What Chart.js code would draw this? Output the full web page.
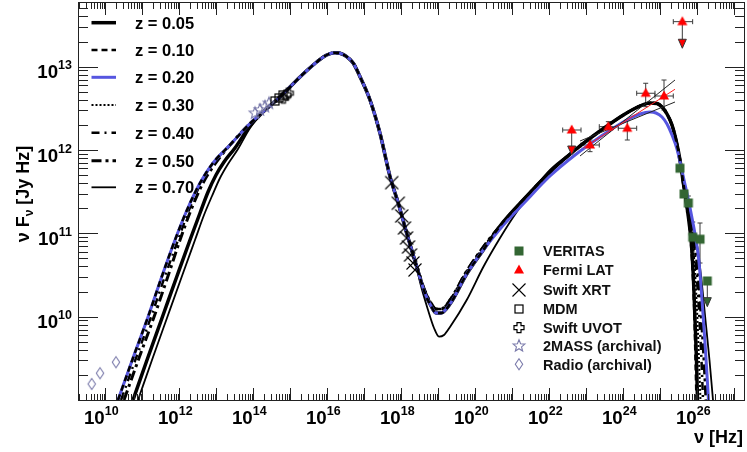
<!DOCTYPE html>
<html>
<head>
<meta charset="utf-8">
<title>SED</title>
<script src="https://cdn.jsdelivr.net/npm/chart.js@4.4.1/dist/chart.umd.min.js"></script>
<style>
html,body{margin:0;padding:0;background:#ffffff;}
canvas{display:block;}
</style>
</head>
<body>
<canvas id="sed" width="747" height="452"></canvas>
<script>
// ---------- axis ranges (log10 of nu [Hz] and of nuFnu [Jy Hz]) ----------
const LOG_NU_MIN = 9.262, LOG_NU_MAX = 27.289;
const LOG_F_MIN = 9.0, LOG_F_MAX = 13.764;
const xTickExponents = [10, 12, 14, 16, 18, 20, 22, 24, 26];
const yTickExponents = [10, 11, 12, 13];
const modelLabels = ['z = 0.05', 'z = 0.10', 'z = 0.20', 'z = 0.30', 'z = 0.40', 'z = 0.50', 'z = 0.70'];
const dataLabels = ['VERITAS', 'Fermi LAT', 'Swift XRT', 'MDM', 'Swift UVOT', '2MASS (archival)', 'Radio (archival)'];

// ---------- model curve pieces: [log10 nu, log10 nuFnu] ----------
const lowGroup = [[10.343,9.000],[10.749,9.504],[11.154,9.996],[11.533,10.488],[11.884,10.920],[12.208,11.280],[12.560,11.604],[12.911,11.844],[13.370,12.060],[13.911,12.318]];
const lowZ005 = [[10.749,9.000],[11.127,9.480],[11.533,9.984],[11.938,10.488],[12.289,10.920],[12.560,11.244],[12.776,11.496],[12.992,11.700],[13.208,11.856],[13.505,12.024],[13.911,12.288]];
const lowZ040 = [[10.425,9.000],[10.830,9.504],[11.235,9.996],[11.613,10.488],[11.965,10.920],[12.262,11.280],[12.587,11.604],[12.911,11.844],[13.370,12.060],[13.911,12.318]];
const lowZ050 = [[10.506,9.000],[10.911,9.504],[11.316,9.996],[11.695,10.488],[12.019,10.920],[12.316,11.280],[12.641,11.604],[12.965,11.832],[13.370,12.060],[13.911,12.318]];
const lowZ070 = [[10.884,9.000],[11.262,9.480],[11.667,9.984],[12.073,10.488],[12.424,10.920],[12.668,11.220],[12.884,11.448],[13.100,11.664],[13.316,11.832],[13.586,12.012],[13.911,12.264]];
const syncBranch = [[14.262,12.456],[14.722,12.636],[15.262,12.876],[15.714,13.056],[15.984,13.140],[16.208,13.168],[16.343,13.161],[16.524,13.120],[16.703,13.041],[16.884,12.880],[17.154,12.600],[17.424,12.201],[17.695,11.680],[17.919,11.360],[18.146,11.001],[18.416,10.600]];
const dipDeep = [[18.641,10.280],[18.803,10.128],[18.938,10.044],[19.073,10.044],[19.316,10.152],[19.768,10.512],[20.216,10.800]];
const dipHigh = [[18.641,10.308],[18.803,10.164],[18.938,10.092],[19.073,10.092],[19.316,10.200],[19.768,10.548],[20.216,10.836]];
const dipZ070 = [[18.505,10.416],[18.722,10.080],[18.884,9.864],[19.019,9.760],[19.154,9.780],[19.316,9.876],[19.768,10.200],[20.216,10.596],[20.668,10.944],[21.119,11.256],[21.568,11.520],[22.019,11.760]];
const riseEarly = [[20.668,11.088],[21.343,11.424],[22.019,11.736]];
const riseLate = [[22.695,12.000],[23.370,12.228],[24.046,12.432],[24.451,12.528],[24.722,12.564],[24.911,12.558],[25.046,12.516],[25.181,12.432],[25.316,12.300],[25.424,12.120],[25.532,11.880],[25.622,11.604],[25.713,11.340]];
const riseBlue = [[20.668,11.052],[21.343,11.376],[22.019,11.688],[22.695,11.940],[23.370,12.156],[24.046,12.348],[24.451,12.432],[24.722,12.456],[24.884,12.444],[25.046,12.396],[25.181,12.312],[25.316,12.180],[25.451,12.012],[25.559,11.808],[25.641,11.640],[25.749,11.424],[25.857,11.184],[25.965,10.920],[26.046,10.656],[26.127,10.200],[26.221,9.600],[26.302,9.000]];
const dropZ005 = [[25.776,11.136],[25.843,10.860],[25.897,10.440],[25.938,9.960],[25.978,9.480],[26.005,9.000]];
const dropZ010 = [[25.776,11.136],[25.830,10.860],[25.884,10.440],[25.924,9.960],[25.951,9.480],[25.978,9.000]];
const dropZ030 = [[25.803,11.136],[25.884,10.860],[25.951,10.440],[26.005,9.960],[26.046,9.480],[26.086,9.000]];
const dropZ040 = [[25.816,11.136],[25.911,10.860],[25.992,10.440],[26.059,9.960],[26.113,9.480],[26.154,9.000]];
const dropZ050 = [[25.830,11.136],[25.938,10.860],[26.032,10.440],[26.113,9.960],[26.181,9.480],[26.235,9.000]];
const dropZ070 = [[25.857,11.136],[25.992,10.860],[26.113,10.440],[26.221,9.960],[26.329,9.480],[26.424,9.000]];

const curveZ005 = [...lowZ005, ...syncBranch, ...dipDeep, ...riseEarly, ...riseLate, ...dropZ005];
const curveZ010 = [...lowGroup, ...syncBranch, ...dipDeep, ...riseEarly, ...riseLate, ...dropZ010];
const curveZ020 = [...lowGroup, ...syncBranch, ...dipDeep, ...riseBlue];
const curveZ030 = [...lowGroup, ...syncBranch, ...dipHigh, ...riseEarly, ...riseLate, ...dropZ030];
const curveZ040 = [...lowZ040, ...syncBranch, ...dipHigh, ...riseEarly, ...riseLate, ...dropZ040];
const curveZ050 = [...lowZ050, ...syncBranch, ...dipHigh, ...riseEarly, ...riseLate, ...dropZ050];
const curveZ070 = [...lowZ070, ...syncBranch, ...dipZ070, ...riseLate, ...dropZ070];

// ---------- measurements (log10 values) ----------
const veritasNu     = [25.532, 25.641, 25.757, 25.876, 26.073, 26.270];
const veritasFlux   = [11.781, 11.472, 11.364, 10.953, 10.929, 10.428];
const veritasFluxLo = [null, null, 11.256, 10.776, 10.644, null];
const veritasFluxHi = [null, null, 11.448, 11.136, 11.124, null];
const veritasArrowTo = [null, null, null, null, null, 10.120];

const fermiNu     = [22.605, 23.100, 23.595, 24.108, 24.605, 25.100, 25.595];
const fermiFlux   = [12.240, 12.060, 12.280, 12.261, 12.681, 12.648, 13.540];
const fermiNuLo   = [22.362, 22.857, 23.351, 23.865, 24.362, 24.856, 25.351];
const fermiNuHi   = [22.857, 23.351, 23.865, 24.362, 24.856, 25.351, 25.874];
const fermiFluxLo = [null, 11.980, 12.220, 12.120, 12.520, 12.480, null];
const fermiFluxHi = [null, 12.120, 12.340, 12.360, 12.801, 12.840, null];
const fermiArrowTo = [11.940, null, null, null, null, null, 13.221];

const fermiFitNu = [22.919, 25.397];
const fermiFitFlux = [12.024, 12.729];
const fermiBandSteepFlux = [11.928, 12.840];
const fermiBandFlatFlux = [12.108, 12.576];
const fermiBandNu = [22.830, 25.397];

const xrtNu   = [17.741, 17.919, 18.011, 18.086, 18.141, 18.195, 18.249, 18.316, 18.370];
const xrtFlux = [11.608, 11.361, 11.208, 11.064, 10.944, 10.836, 10.740, 10.644, 10.560];
const mdmNu   = [14.586, 14.695, 14.803];
const mdmFlux = [12.588, 12.624, 12.660];
const uvotNu   = [14.811, 14.884, 14.946];
const uvotFlux = [12.621, 12.660, 12.681];
const twomassNu   = [14.046, 14.181, 14.316, 14.424];
const twomassFlux = [12.441, 12.480, 12.520, 12.560];
const radioNu   = [9.632, 9.857, 10.289];
const radioFlux = [9.192, 9.321, 9.453];

// ---------- styling ----------
const BLUE = '#5656e0', GREEN = '#336633', RED = '#ff0000', ARCH = '#7b7bab';
const FONT = '"Liberation Sans", Arial, Helvetica, sans-serif';

function toPts(pairs) { return pairs.map(p => ({x: Math.pow(10, p[0]), y: Math.pow(10, p[1])})); }
function toPts2(nu, fl) { return nu.map((v, i) => ({x: Math.pow(10, v), y: Math.pow(10, fl[i])})); }

function drawMarker(ctx, kind, x, y) {
  ctx.save();
  ctx.lineWidth = 1;
  ctx.setLineDash([]);
  if (kind === 'veritas') {
    ctx.fillStyle = GREEN; ctx.fillRect(x - 4.5, y - 4.5, 9, 9);
  } else if (kind === 'fermi') {
    ctx.fillStyle = RED; ctx.beginPath();
    ctx.moveTo(x, y - 5.5); ctx.lineTo(x + 5, y + 3.5); ctx.lineTo(x - 5, y + 3.5); ctx.closePath(); ctx.fill();
  } else if (kind === 'xrt') {
    ctx.strokeStyle = '#000'; ctx.lineWidth = 1.1; ctx.beginPath();
    ctx.moveTo(x - 6.5, y - 6.5); ctx.lineTo(x + 6.5, y + 6.5); ctx.moveTo(x + 6.5, y - 6.5); ctx.lineTo(x - 6.5, y + 6.5); ctx.stroke();
  } else if (kind === 'mdm') {
    ctx.strokeStyle = '#000'; ctx.lineWidth = 1.2; ctx.strokeRect(x - 4, y - 4, 8, 8);
  } else if (kind === 'uvot') {
    const a = 2, b = 5;
    ctx.strokeStyle = '#000'; ctx.lineWidth = 1.2; ctx.beginPath();
    ctx.moveTo(x - a, y - b); ctx.lineTo(x + a, y - b); ctx.lineTo(x + a, y - a); ctx.lineTo(x + b, y - a);
    ctx.lineTo(x + b, y + a); ctx.lineTo(x + a, y + a); ctx.lineTo(x + a, y + b); ctx.lineTo(x - a, y + b);
    ctx.lineTo(x - a, y + a); ctx.lineTo(x - b, y + a); ctx.lineTo(x - b, y - a); ctx.lineTo(x - a, y - a);
    ctx.closePath(); ctx.stroke();
  } else if (kind === 'twomass') {
    ctx.strokeStyle = ARCH; ctx.lineWidth = 1.1; ctx.beginPath();
    for (let k = 0; k < 10; k++) {
      const r = (k % 2 === 0) ? 6.2 : 2.7;
      const ang = -Math.PI / 2 + k * Math.PI / 5;
      const px = x + r * Math.cos(ang), py = y + r * Math.sin(ang);
      if (k === 0) ctx.moveTo(px, py); else ctx.lineTo(px, py);
    }
    ctx.closePath(); ctx.stroke();
  } else if (kind === 'radio') {
    ctx.strokeStyle = ARCH; ctx.lineWidth = 1.1; ctx.beginPath();
    ctx.moveTo(x, y - 5.5); ctx.lineTo(x + 3.7, y); ctx.lineTo(x, y + 5.5); ctx.lineTo(x - 3.7, y); ctx.closePath(); ctx.stroke();
  }
  ctx.restore();
}
function markerCanvas(kind) {
  const c = document.createElement('canvas');
  c.width = 18; c.height = 18;
  drawMarker(c.getContext('2d'), kind, 9, 9);
  return c;
}

const modelStyles = [
  {color: '#000', width: 3.5, dash: []},
  {color: '#000', width: 2.5, dash: [6, 4]},
  {color: BLUE, width: 3, dash: []},
  {color: '#000', width: 2, dash: [2, 2]},
  {color: '#000', width: 2.5, dash: [8, 5, 2, 5]},
  {color: '#000', width: 3, dash: [10, 4, 3, 4]},
  {color: '#000', width: 1.8, dash: []}
];
const modelCurves = [curveZ005, curveZ010, curveZ020, curveZ030, curveZ040, curveZ050, curveZ070];

function modelDataset(i) {
  const s = modelStyles[i];
  return {
    label: modelLabels[i], data: toPts(modelCurves[i]), showLine: true,
    borderColor: s.color, borderWidth: s.width, borderDash: s.dash,
    pointRadius: 0, pointHoverRadius: 0, fill: false,
    cubicInterpolationMode: 'monotone', clip: 0, borderCapStyle: 'butt'
  };
}
function markerDataset(label, nu, fl, kind) {
  return {label, data: toPts2(nu, fl), showLine: false, pointStyle: markerCanvas(kind), pointRadius: 5, pointHoverRadius: 5};
}
function lineDataset(label, nu, fl, color) {
  return {label, data: toPts2(nu, fl), showLine: true, borderColor: color, borderWidth: 1, pointRadius: 0, fill: false, clip: 0};
}

const datasets = [
  markerDataset(dataLabels[1], fermiNu, fermiFlux, 'fermi'),
  markerDataset(dataLabels[0], veritasNu, veritasFlux, 'veritas'),
  markerDataset(dataLabels[2], xrtNu, xrtFlux, 'xrt'),
  markerDataset(dataLabels[3], mdmNu, mdmFlux, 'mdm'),
  markerDataset(dataLabels[4], uvotNu, uvotFlux, 'uvot'),
  markerDataset(dataLabels[5], twomassNu, twomassFlux, 'twomass'),
  markerDataset(dataLabels[6], radioNu, radioFlux, 'radio'),
  lineDataset('Fermi fit', fermiFitNu, fermiFitFlux, '#ff2020'),
  lineDataset('Fermi band (steep)', fermiBandNu, fermiBandSteepFlux, '#222'),
  lineDataset('Fermi band (flat)', fermiBandNu, fermiBandFlatFlux, '#222'),
  modelDataset(1), modelDataset(2), modelDataset(5), modelDataset(4), modelDataset(3), modelDataset(0), modelDataset(6)
];

function X(chart, v) { return chart.scales.x.getPixelForValue(Math.pow(10, v)); }
function Y(chart, v) { return chart.scales.y.getPixelForValue(Math.pow(10, v)); }

function line(ctx, x1, y1, x2, y2) { ctx.beginPath(); ctx.moveTo(x1, y1); ctx.lineTo(x2, y2); ctx.stroke(); }
function arrowHead(ctx, x, yTip, color) {
  ctx.save();
  ctx.fillStyle = color; ctx.strokeStyle = '#333'; ctx.lineWidth = 1;
  ctx.beginPath(); ctx.moveTo(x, yTip); ctx.lineTo(x + 4, yTip - 9); ctx.lineTo(x - 4, yTip - 9); ctx.closePath();
  ctx.fill(); ctx.stroke();
  ctx.restore();
}

const errorBarPlugin = {
  id: 'errorBars',
  beforeDatasetsDraw(chart) {
    const ctx = chart.ctx, a = chart.chartArea;
    ctx.save();
    ctx.beginPath(); ctx.rect(a.left, a.top, a.right - a.left, a.bottom - a.top); ctx.clip();
    ctx.strokeStyle = '#3a3a3a'; ctx.lineWidth = 1; ctx.setLineDash([]);
    fermiNu.forEach((nu, i) => {
      const x = X(chart, nu), y = Y(chart, fermiFlux[i]);
      const x1 = X(chart, fermiNuLo[i]), x2 = X(chart, fermiNuHi[i]);
      line(ctx, x1, y, x2, y);
      line(ctx, x1, y - 2.5, x1, y + 2.5); line(ctx, x2, y - 2.5, x2, y + 2.5);
      if (fermiFluxLo[i] !== null) {
        const y1 = Y(chart, fermiFluxLo[i]), y2 = Y(chart, fermiFluxHi[i]);
        line(ctx, x, y1, x, y2);
        line(ctx, x - 2.5, y1, x + 2.5, y1); line(ctx, x - 2.5, y2, x + 2.5, y2);
      }
      if (fermiArrowTo[i] !== null) line(ctx, x, y, x, Y(chart, fermiArrowTo[i]) - 8);
    });
    veritasNu.forEach((nu, i) => {
      const x = X(chart, nu), y = Y(chart, veritasFlux[i]);
      if (veritasFluxLo[i] !== null) {
        const y1 = Y(chart, veritasFluxLo[i]), y2 = Y(chart, veritasFluxHi[i]);
        line(ctx, x, y1, x, y2);
        line(ctx, x - 2.5, y1, x + 2.5, y1); line(ctx, x - 2.5, y2, x + 2.5, y2);
      }
      if (veritasArrowTo[i] !== null) line(ctx, x, y, x, Y(chart, veritasArrowTo[i]) - 8);
    });
    ctx.restore();
  },
  afterDatasetsDraw(chart) {
    const ctx = chart.ctx;
    fermiNu.forEach((nu, i) => { if (fermiArrowTo[i] !== null) arrowHead(ctx, X(chart, nu), Y(chart, fermiArrowTo[i]), RED); });
    veritasNu.forEach((nu, i) => { if (veritasArrowTo[i] !== null) arrowHead(ctx, X(chart, nu), Y(chart, veritasArrowTo[i]), GREEN); });
  }
};

function drawPower(ctx, exp, xRef, baseY, align) {
  const hs = 1.04;
  ctx.font = 'bold 18px ' + FONT;
  const wb = ctx.measureText('10').width * hs;
  ctx.font = 'bold 12px ' + FONT;
  const ws = ctx.measureText(String(exp)).width * hs;
  const total = wb + ws;
  const x0 = align === 'center' ? xRef - total / 2 : xRef - total;
  ctx.save();
  ctx.fillStyle = '#000'; ctx.textAlign = 'left'; ctx.textBaseline = 'alphabetic';
  ctx.translate(x0, baseY); ctx.scale(hs, 1);
  ctx.font = 'bold 18px ' + FONT; ctx.fillText('10', 0, 0);
  ctx.font = 'bold 12px ' + FONT; ctx.fillText(String(exp), wb / hs, -9);
  ctx.restore();
}

const decorPlugin = {
  id: 'decor',
  afterDraw(chart) {
    const ctx = chart.ctx, a = chart.chartArea;
    const L = a.left, R = a.right, T = a.top, B = a.bottom;
    ctx.save();
    ctx.setLineDash([]);
    ctx.strokeStyle = '#222'; ctx.lineWidth = 1;
    // frame
    ctx.strokeRect(Math.round(L) + 0.5, Math.round(T) - 0.5, Math.round(R - L) - 1, Math.round(B - T) + 1);
    // x ticks
    for (let n = Math.floor(LOG_NU_MIN); n <= Math.ceil(LOG_NU_MAX); n++) {
      for (let k = 1; k <= 9; k++) {
        const v = n + Math.log10(k);
        if (v < LOG_NU_MIN || v > LOG_NU_MAX) continue;
        const x = Math.round(X(chart, v)) + 0.5;
        const len = k === 1 ? 12 : 6;
        line(ctx, x, B, x, B - len);
        line(ctx, x, T, x, T + len);
      }
    }
    // y ticks
    for (let n = Math.floor(LOG_F_MIN); n <= Math.ceil(LOG_F_MAX); n++) {
      for (let k = 1; k <= 9; k++) {
        const v = n + Math.log10(k);
        if (v < LOG_F_MIN || v > LOG_F_MAX) continue;
        const y = Math.round(Y(chart, v)) + 0.5;
        const len = k === 1 ? 20 : 10;
        line(ctx, L, y, L + len, y);
        line(ctx, R, y, R - len, y);
      }
    }
    // tick labels
    xTickExponents.forEach(e => drawPower(ctx, e, X(chart, e) - 4, 423.5, 'center'));
    yTickExponents.forEach(e => drawPower(ctx, e, 72, Y(chart, e) + 11.7, 'right'));

    // axis titles
    ctx.fillStyle = '#000'; ctx.textBaseline = 'alphabetic';
    ctx.font = 'bold 18px ' + FONT; ctx.textAlign = 'right';
    ctx.fillText('\u03bd [Hz]', 743, 443);
    // y title, rotated
    ctx.save();
    ctx.translate(29, 194); ctx.rotate(-Math.PI / 2);
    const p1 = '\u03bd F', p3 = ' [Jy Hz]';
    ctx.font = 'bold 18px ' + FONT; const w1 = ctx.measureText(p1).width, w3 = ctx.measureText(p3).width;
    ctx.font = 'bold 12px ' + FONT; const w2 = ctx.measureText('\u03bd').width;
    let xs = -(w1 + w2 + w3) / 2;
    ctx.textAlign = 'left';
    ctx.font = 'bold 18px ' + FONT; ctx.fillText(p1, xs, 0); xs += w1;
    ctx.font = 'bold 12px ' + FONT; ctx.fillText('\u03bd', xs, 4); xs += w2;
    ctx.font = 'bold 18px ' + FONT; ctx.fillText(p3, xs, 0);
    ctx.restore();

    // model legend
    const rowY = [22.7, 50, 77.3, 105, 132.7, 160.7, 187.3];
    modelLabels.forEach((lab, i) => {
      const s = modelStyles[i], y = rowY[i];
      ctx.save();
      ctx.strokeStyle = s.color; ctx.lineWidth = s.width; ctx.setLineDash(s.dash); ctx.lineCap = 'butt';
      line(ctx, 91.5, y, 116, y);
      ctx.restore();
      ctx.fillStyle = '#000'; ctx.textAlign = 'left';
      ctx.font = 'bold 16.5px ' + FONT;
      ctx.fillText(lab, 135, y + 6);
    });

    // data legend
    const kinds = ['veritas', 'fermi', 'xrt', 'mdm', 'uvot', 'twomass', 'radio'];
    const rowY2 = [251, 270, 290, 309, 327.7, 346, 364.3];
    dataLabels.forEach((lab, i) => {
      drawMarker(ctx, kinds[i], 519, rowY2[i]);
      ctx.fillStyle = '#111'; ctx.textAlign = 'left';
      ctx.font = 'bold 14.5px ' + FONT;
      ctx.fillText(lab, 543, rowY2[i] + 5.2);
    });
    ctx.restore();
  }
};

new Chart(document.getElementById('sed'), {
  type: 'scatter',
  data: {datasets},
  options: {
    responsive: false,
    animation: false,
    events: [],
    layout: {padding: {left: 78, right: 2, top: 3, bottom: 52}, autoPadding: false},
    plugins: {legend: {display: false}, tooltip: {enabled: false}},
    scales: {
      x: {type: 'logarithmic', display: false, bounds: 'data', min: Math.pow(10, LOG_NU_MIN), max: Math.pow(10, LOG_NU_MAX)},
      y: {type: 'logarithmic', display: false, bounds: 'data', min: Math.pow(10, LOG_F_MIN), max: Math.pow(10, LOG_F_MAX)}
    }
  },
  plugins: [errorBarPlugin, decorPlugin]
});
</script>
</body>
</html>
